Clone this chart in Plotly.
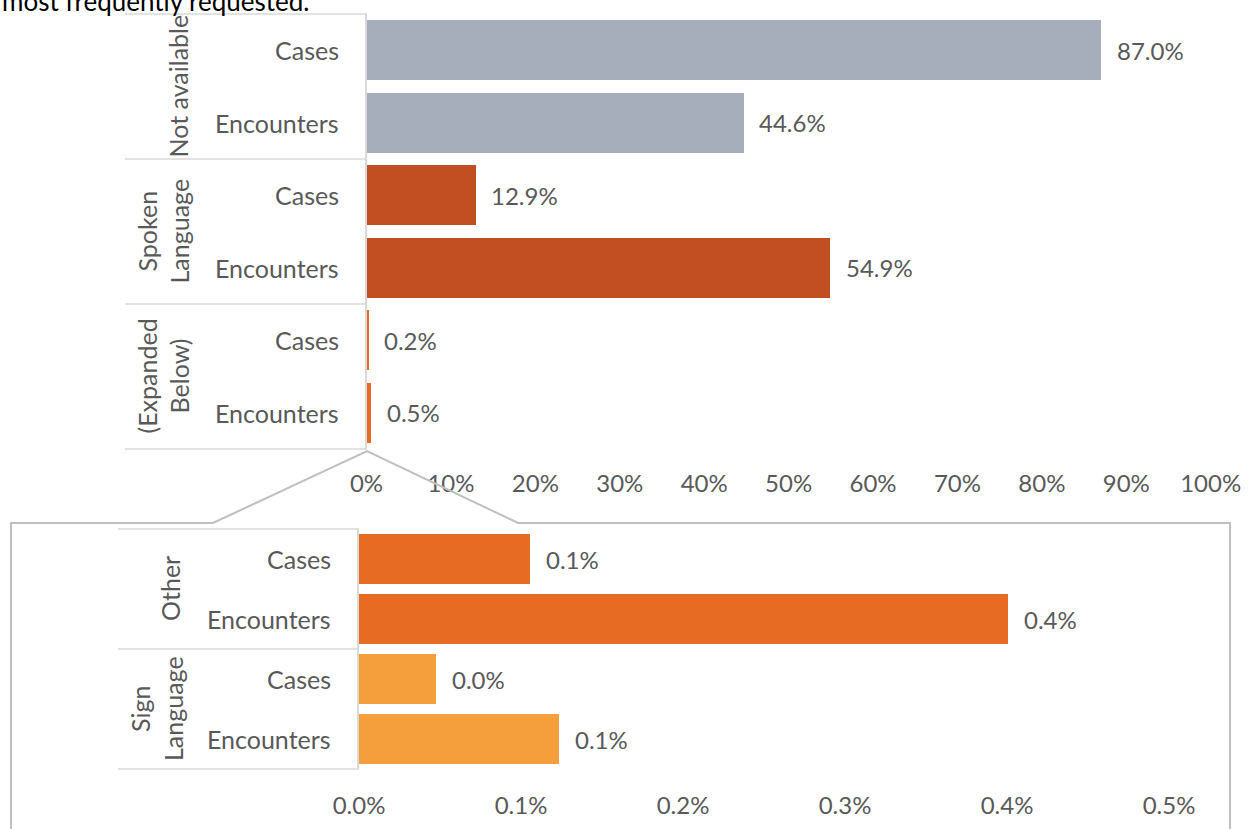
import plotly.graph_objects as go

W, H = 1251, 829

# ---- data -------------------------------------------------------------
top_groups = ["Not available", "Spoken<br>Language", "(Expanded<br>Below)"]
top_measures = ["Cases", "Encounters"]
top_values = [87.0, 44.6, 12.9, 54.9, 0.2, 0.5]          # % of total
top_colors = ["#A5AEBA", "#A5AEBA", "#C24F22", "#C24F22", "#E86B23", "#E86B23"]

detail_groups = ["Other", "Sign<br>Language"]
detail_measures = ["Cases", "Encounters"]
detail_values = [0.1056, 0.4006, 0.0475, 0.1235]          # % of total
detail_colors = ["#E86B23", "#E86B23", "#F49E3C", "#F49E3C"]

top_ticks = [0, 10, 20, 30, 40, 50, 60, 70, 80, 90, 100]
detail_ticks = [0.0, 0.1, 0.2, 0.3, 0.4, 0.5]

FONT = "Lato, 'Open Sans', sans-serif"
TXT = "#595959"
FS = 24


def px(x):
    return x / W


def py(y):
    return 1 - y / H


top_cats = [f"{g}|{m}" for g in top_groups for m in top_measures]
detail_cats = [f"{g}|{m}" for g in detail_groups for m in detail_measures]

fig = go.Figure()
fig.add_trace(go.Bar(
    x=top_values, y=top_cats, orientation="h", width=0.83,
    marker=dict(color=top_colors, line=dict(width=0)),
    xaxis="x", yaxis="y", hoverinfo="x+y", showlegend=False))
fig.add_trace(go.Bar(
    x=detail_values, y=detail_cats, orientation="h", width=0.84,
    marker=dict(color=detail_colors, line=dict(width=0)),
    xaxis="x2", yaxis="y2", hoverinfo="x+y", showlegend=False))

# top panel spans y 14..449 px, detail panel y 529..769 px
TOP_Y0, TOP_Y1 = 14, 449
DET_Y0, DET_Y1 = 529, 769
TOP_X0, TOP_X1 = 366.5, 1210.7
DET_X0, DET_X1 = 359, 1169

axis_common = dict(showgrid=False, zeroline=False, ticks="", automargin=False,
                   tickfont=dict(family=FONT, size=FS, color=TXT))
fig.update_layout(
    width=W, height=H,
    margin=dict(l=0, r=0, t=0, b=0, autoexpand=False),
    paper_bgcolor="white", plot_bgcolor="white",
    bargap=0,
    xaxis=dict(domain=[px(TOP_X0), px(TOP_X1)], range=[0, 100], anchor="y",
               tickvals=top_ticks, ticktext=[f"{t}%" for t in top_ticks],
               showline=False, ticklabelstandoff=18, **axis_common),
    yaxis=dict(domain=[py(TOP_Y1), py(TOP_Y0)], anchor="x",
               categoryorder="array", categoryarray=top_cats,
               autorange="reversed", showticklabels=False, automargin=False,
               showline=True, linecolor="#D9D9D9", linewidth=1.5,
               showgrid=False, zeroline=False, ticks=""),
    xaxis2=dict(domain=[px(DET_X0), px(DET_X1)], range=[0, 0.5], anchor="y2",
                tickvals=detail_ticks,
                ticktext=[f"{t:.1f}%" for t in detail_ticks],
                showline=False, ticklabelstandoff=20, **axis_common),
    yaxis2=dict(domain=[py(DET_Y1), py(DET_Y0)], anchor="x2",
                categoryorder="array", categoryarray=detail_cats,
                autorange="reversed", showticklabels=False, automargin=False,
                showline=True, linecolor="#D9D9D9", linewidth=1.5,
                showgrid=False, zeroline=False, ticks=""),
)

ann = []
shapes = []
LINE = dict(color="#D9D9D9", width=1.5)


def label_table(groups, measures, values, cats, xa, ya, y0, y1, left, right,
                meas_right):
    n = len(groups)
    step = (y1 - y0) / n
    for i, g in enumerate(groups):
        gy0 = y0 + i * step
        cx = (left + 52) if "<br>" not in g else (left + 38)
        ann.append(dict(text=g, textangle=-90, xref="paper", yref="paper",
                        x=px(cx), y=py(gy0 + step / 2), xanchor="center",
                        yanchor="middle", showarrow=False,
                        font=dict(family=FONT, size=FS + 1, color=TXT)))
    for i, c in enumerate(cats):
        m = c.split("|")[1]
        ann.append(dict(text=m, xref="paper", yref=ya, x=px(meas_right), y=c,
                        xanchor="right", yanchor="middle", showarrow=False,
                        font=dict(family=FONT, size=FS + 1, color=TXT)))
    for k in range(n + 1):
        yy = py(y0 + k * step)
        shapes.append(dict(type="line", xref="paper", yref="paper",
                           x0=px(left), x1=px(right), y0=yy, y1=yy, line=LINE))
    # value labels just past the end of each bar
    for v, c in zip(values, cats):
        ann.append(dict(text=f"{v:.1f}%", xref=xa, yref=ya, x=v, y=c,
                        xanchor="left", yanchor="middle", xshift=14,
                        showarrow=False,
                        font=dict(family=FONT, size=FS, color=TXT)))


label_table(top_groups, top_measures, top_values, top_cats, "x", "y",
            TOP_Y0, TOP_Y1, 125, 367, 341)
label_table(detail_groups, detail_measures, detail_values, detail_cats,
            "x2", "y2", DET_Y0, DET_Y1, 118, 359, 333)

# callout frame around the detail panel, pointing at the expanded bar
pts = [(11, 840), (11, 523), (213, 523), (367, 451), (518, 523),
       (1230, 523), (1230, 840)]
path = "M " + " L ".join(f"{px(x):.5f},{py(y):.5f}" for x, y in pts)
shapes.append(dict(type="path", xref="paper", yref="paper", path=path,
                   line=dict(color="#BFBFBF", width=2)))

# heading text running off the top edge of the page
ann.append(dict(text="most frequently requested.", xref="paper", yref="paper",
                x=0, y=py(19), xanchor="left", yanchor="bottom",
                showarrow=False,
                font=dict(family=FONT, size=26, color="#000000")))

fig.update_layout(annotations=ann, shapes=shapes)
fig.write_html("out.html")
